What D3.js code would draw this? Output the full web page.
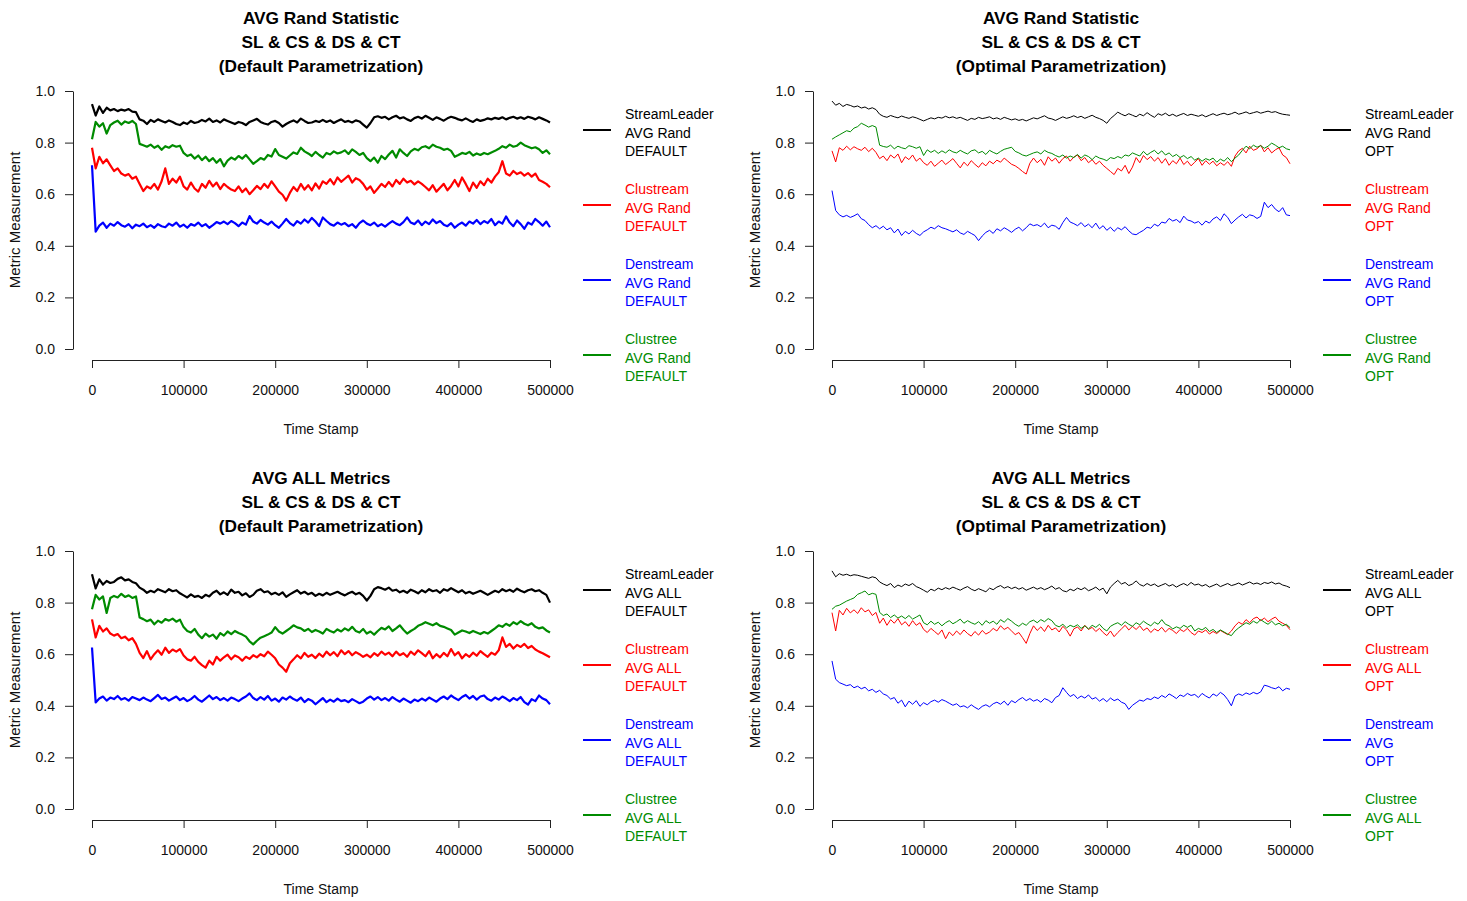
<!DOCTYPE html>
<html>
<head>
<meta charset="utf-8">
<script src="https://cdn.jsdelivr.net/npm/d3@7"></script>
<style>
  body { margin: 0; background: #fff; }
  svg { display: block; }
  text { font-family: "Liberation Sans", Arial, sans-serif; }
</style>
</head>
<body>
<svg id="chart" width="1467" height="901"></svg>
<script>
// Sampling: one measurement every 4000 time stamps, 0 .. 500000
const timeStep = 4000;
const timeMax = 500000;

// Axis tick values
const xTickValues = [0, 100000, 200000, 300000, 400000, 500000];
const yTickValues = [0, 0.2, 0.4, 0.6, 0.8, 1.0];

// Series values, in thousandths of the metric
const randDefaultStreamLeader = [
  949,905,940,915,935,925,930,922,928,924,
  930,920,918,890,885,872,888,880,890,884,
  878,886,880,872,868,878,872,884,876,880,
  888,882,893,880,886,878,890,884,878,872,
  880,876,868,880,886,892,880,874,870,880,
  884,876,862,872,880,886,878,893,884,876,
  878,884,880,888,880,886,876,884,890,880,
  884,878,886,882,870,858,876,898,902,896,
  900,890,898,904,894,898,890,884,895,900,
  893,904,896,888,898,892,885,894,900,896,
  890,886,894,886,880,890,884,888,894,890,
  896,892,898,890,896,900,893,898,892,900,
  896,890,898,892,886,878
];
const randDefaultClustream = [
  780,700,745,720,735,712,690,700,680,672,
  678,660,668,640,612,630,622,640,618,650,
  700,640,660,645,668,630,618,645,622,610,
  640,625,652,630,645,620,640,628,618,612,
  630,608,622,600,615,632,620,640,625,650,
  630,610,598,575,605,628,612,640,618,635,
  615,642,622,650,640,658,638,665,648,660,
  672,645,662,655,640,618,630,605,622,640,
  628,648,630,655,640,660,645,652,638,650,
  640,628,615,635,610,625,640,615,632,655,
  630,665,640,612,645,625,650,635,660,645,
  668,685,728,680,672,690,678,685,672,682,
  668,680,655,648,640,627
];
const randDefaultDenstream = [
  712,455,478,490,470,486,478,492,480,474,
  484,468,482,476,486,472,480,470,484,476,
  472,486,478,490,474,482,470,484,478,490,
  476,484,470,480,492,486,494,484,496,488,
  476,490,482,515,494,486,500,490,482,494,
  480,470,486,504,488,478,496,486,502,490,
  508,494,476,510,496,484,478,490,482,488,
  476,484,470,488,498,486,480,490,476,484,
  474,486,496,486,480,492,510,490,484,498,
  480,494,484,502,488,496,482,476,488,470,
  482,490,478,494,486,500,484,496,488,504,
  480,494,486,514,490,476,498,484,466,490,
  482,504,492,478,494,472
];
const randDefaultClustree = [
  813,880,862,875,835,868,878,885,870,882,
  876,884,872,795,790,784,792,780,788,772,
  786,780,790,784,788,760,748,754,738,750,
  732,745,728,740,722,736,708,730,742,734,
  748,738,752,735,718,728,740,734,752,746,
  775,752,745,738,750,762,756,780,766,758,
  748,764,752,742,760,754,766,758,762,770,
  756,774,764,752,760,740,728,742,722,748,
  736,754,768,742,774,760,748,766,776,770,
  782,786,778,792,784,780,772,776,768,745,
  752,760,756,764,750,758,752,760,755,762,
  768,776,786,780,792,784,788,800,790,784,
  778,782,774,760,770,755
];

const randOptStreamLeader = [
  961,945,952,940,948,944,938,942,934,938,
  930,935,928,910,902,898,905,900,896,903,
  898,894,900,896,890,884,890,896,892,898,
  895,902,896,900,894,898,892,886,894,890,
  898,893,896,900,892,896,890,898,893,888,
  892,886,890,884,890,896,892,898,904,895,
  892,886,893,900,894,898,904,897,902,894,
  900,906,898,893,886,875,893,905,918,910,
  904,912,906,900,910,904,916,906,898,912,
  906,914,904,910,902,908,913,905,910,906,
  902,908,900,906,912,905,910,914,908,912,
  918,910,914,919,912,916,920,914,918,922,
  917,920,914,910,908,906
];
const randOptClustream = [
  768,725,780,770,786,772,784,776,770,782,
  765,778,762,738,748,730,752,740,756,722,
  745,734,752,728,740,722,712,728,708,720,
  732,715,726,738,720,702,724,710,730,716,
  704,722,710,728,718,732,724,740,728,716,
  710,700,688,678,720,740,722,735,712,745,
  728,740,720,738,748,728,744,752,730,742,
  722,734,716,728,712,700,688,676,700,690,
  712,680,705,742,722,750,734,746,728,742,
  720,738,712,730,718,740,715,728,710,724,
  738,712,730,716,728,710,722,712,726,708,
  748,768,778,760,786,770,776,790,764,780,
  760,772,780,752,742,718
];
const randOptDenstream = [
  614,537,520,512,518,510,516,524,505,498,
  482,470,478,466,476,462,470,450,465,440,
  456,446,460,448,440,454,462,472,466,478,
  470,466,460,454,462,450,444,456,448,440,
  420,438,452,460,448,466,458,470,462,452,
  464,472,458,470,485,478,482,474,488,470,
  480,476,464,490,510,492,486,478,490,474,
  484,470,488,466,478,460,472,456,470,462,
  474,458,446,443,452,460,472,468,484,476,
  492,488,506,496,502,490,515,500,496,488,
  494,480,496,488,504,512,498,524,510,486,
  500,512,522,508,520,516,506,514,569,548,
  560,542,532,548,520,517
];
const randOptClustree = [
  813,822,830,838,846,842,856,862,875,868,
  860,866,860,790,785,782,790,776,786,780,
  776,788,784,778,784,750,772,762,770,758,
  768,760,772,764,760,770,762,756,768,772,
  760,766,754,770,762,756,766,774,778,782,
  766,760,752,748,754,760,764,756,770,762,
  758,750,744,752,740,748,742,754,740,752,
  746,734,748,740,736,730,742,738,746,740,
  752,748,760,754,748,766,752,762,770,756,
  768,752,760,746,754,742,750,738,746,732,
  740,728,738,732,740,724,736,728,742,726,
  740,752,770,786,776,790,782,788,778,786,
  798,790,780,786,776,772
];

const allDefaultStreamLeader = [
  910,855,890,870,884,876,880,892,898,886,
  890,880,875,858,850,838,846,840,852,846,
  840,852,844,848,836,828,820,832,822,826,
  818,830,824,838,846,832,840,830,850,838,
  842,828,836,822,830,846,852,840,844,832,
  838,830,840,822,832,840,848,835,842,832,
  838,826,834,828,838,830,836,842,834,828,
  836,842,832,838,826,808,826,852,860,856,
  850,858,846,850,840,846,838,850,844,836,
  848,840,852,844,848,838,852,846,856,848,
  840,848,836,842,834,840,846,838,830,838,
  846,840,852,844,850,842,854,846,840,848,
  852,844,848,838,830,800
];
const allDefaultClustream = [
  735,665,710,688,700,680,672,678,662,668,
  654,662,640,605,585,612,580,600,615,598,
  625,605,618,610,620,595,580,575,590,570,
  558,548,575,560,590,575,588,598,580,595,
  588,575,590,582,596,588,600,592,610,598,
  584,560,548,532,565,580,596,584,605,590,
  598,585,602,590,610,596,608,592,615,600,
  612,596,608,600,590,598,588,604,594,610,
  598,606,592,610,596,604,590,610,598,615,
  604,592,612,584,600,588,605,592,620,596,
  608,584,600,590,606,594,612,600,590,606,
  598,615,665,628,640,622,636,628,640,624,
  632,618,610,604,596,588
];
const allDefaultDenstream = [
  626,413,428,436,420,432,426,438,424,430,
  420,434,428,422,432,424,418,430,442,426,
  432,420,428,436,422,430,418,426,438,424,
  416,428,440,426,434,422,430,420,432,426,
  418,428,436,448,430,422,434,424,438,420,
  428,416,432,424,436,426,420,432,414,426,
  420,406,418,430,414,424,416,428,418,422,
  414,426,418,410,416,428,436,424,434,422,
  430,420,434,424,416,428,420,412,424,418,
  428,420,432,424,416,428,436,426,440,430,
  422,434,442,428,438,424,436,440,426,420,
  432,424,436,428,418,430,422,434,414,405,
  426,418,440,428,422,406
];
const allDefaultClustree = [
  774,830,812,824,760,818,826,820,834,822,
  828,818,824,742,736,728,734,716,730,722,
  736,730,738,726,734,705,690,684,698,676,
  662,680,668,676,660,682,672,688,678,690,
  682,676,668,650,638,652,664,670,676,684,
  705,688,680,690,700,712,704,700,690,698,
  686,694,688,680,698,690,684,696,688,700,
  692,706,690,684,698,680,688,676,690,702,
  696,708,690,700,712,695,680,690,698,710,
  716,724,718,712,720,710,706,700,694,676,
  684,692,688,682,690,684,678,686,680,690,
  700,712,706,718,710,724,716,728,718,712,
  720,706,700,704,692,684
];

const allOptStreamLeader = [
  923,900,912,906,910,904,908,906,902,898,
  894,900,896,880,872,866,874,858,868,862,
  872,866,874,862,856,848,840,852,846,856,
  850,858,852,860,854,848,856,862,852,846,
  854,848,842,856,850,860,866,856,862,854,
  860,852,858,848,854,860,852,858,850,856,
  864,852,858,846,842,852,846,856,850,858,
  846,852,860,848,856,834,860,874,886,872,
  878,866,872,884,870,864,874,866,872,862,
  868,874,864,870,860,868,874,866,878,868,
  872,864,870,860,866,872,862,868,874,866,
  870,876,868,874,880,872,876,870,878,874,
  880,872,876,868,864,858
];
const allOptClustream = [
  761,690,770,752,778,760,772,758,780,764,
  772,750,762,720,740,712,734,720,738,714,
  726,708,730,712,722,696,684,700,688,676,
  694,660,686,672,690,676,694,680,670,688,
  674,692,678,686,700,690,710,696,704,690,
  676,684,664,642,680,710,692,706,688,712,
  694,702,686,708,694,670,698,706,690,712,
  696,704,688,700,684,672,690,668,684,698,
  712,694,708,696,710,692,702,684,698,690,
  704,686,700,692,680,696,688,700,684,674,
  690,684,694,678,688,680,692,684,676,690,
  710,724,716,734,722,738,744,730,740,726,
  736,744,728,720,712,695
];
const allOptDenstream = [
  574,503,490,484,478,482,470,476,466,472,
  458,464,452,460,446,440,426,432,410,422,
  396,418,406,420,398,412,404,416,422,414,
  424,418,410,402,408,396,400,392,404,394,
  386,398,404,396,408,414,406,418,402,420,
  412,424,432,420,428,418,424,414,428,422,
  412,432,440,470,452,436,444,428,438,430,
  442,426,432,418,428,416,430,420,426,414,
  408,386,402,412,422,418,428,424,434,428,
  440,432,446,438,428,442,436,448,440,444,
  432,448,438,430,446,438,452,442,424,400,
  438,446,440,450,444,452,446,454,480,476,
  470,466,474,458,468,464
];
const allOptClustree = [
  774,786,790,798,806,812,818,832,838,845,
  830,836,832,762,750,756,742,752,740,748,
  738,750,736,744,752,722,714,728,716,724,
  710,722,730,718,726,736,720,730,722,716,
  726,712,730,720,728,716,734,724,738,728,
  716,708,720,712,726,732,722,734,726,738,
  730,712,706,716,702,712,706,714,700,710,
  698,712,704,716,700,690,708,716,722,712,
  726,716,708,722,714,728,718,710,724,716,
  734,716,710,698,706,700,712,704,712,690,
  700,694,704,688,696,684,694,686,678,672,
  690,702,712,722,716,728,720,734,724,716,
  728,714,720,710,716,703
];

// Algorithm colours (legend and lines share them)
const algoColors = ["#000000", "#ff0000", "#0000ff", "#008b00"];
const algoNames = ["StreamLeader", "Clustream", "Denstream", "Clustree"];

const panels = [
  {
    title: ["AVG Rand Statistic", "SL & CS & DS & CT", "(Default Parametrization)"],
    series: [randDefaultStreamLeader, randDefaultClustream, randDefaultDenstream, randDefaultClustree],
    legend: [["AVG Rand", "DEFAULT"], ["AVG Rand", "DEFAULT"], ["AVG Rand", "DEFAULT"], ["AVG Rand", "DEFAULT"]],
    col: 0, row: 0, lineWidth: 2.2
  },
  {
    title: ["AVG Rand Statistic", "SL & CS & DS & CT", "(Optimal Parametrization)"],
    series: [randOptStreamLeader, randOptClustream, randOptDenstream, randOptClustree],
    legend: [["AVG Rand", "OPT"], ["AVG Rand", "OPT"], ["AVG Rand", "OPT"], ["AVG Rand", "OPT"]],
    col: 1, row: 0, lineWidth: 1
  },
  {
    title: ["AVG ALL Metrics", "SL & CS & DS & CT", "(Default Parametrization)"],
    series: [allDefaultStreamLeader, allDefaultClustream, allDefaultDenstream, allDefaultClustree],
    legend: [["AVG ALL", "DEFAULT"], ["AVG ALL", "DEFAULT"], ["AVG ALL", "DEFAULT"], ["AVG ALL", "DEFAULT"]],
    col: 0, row: 1, lineWidth: 2.2
  },
  {
    title: ["AVG ALL Metrics", "SL & CS & DS & CT", "(Optimal Parametrization)"],
    series: [allOptStreamLeader, allOptClustream, allOptDenstream, allOptClustree],
    legend: [["AVG ALL", "OPT"], ["AVG ALL", "OPT"], ["AVG", "OPT"], ["AVG ALL", "OPT"]],
    col: 1, row: 1, lineWidth: 1
  }
];

// Panel geometry
const columns = [
  { axisX: 73, x0: 92, x1: 550, legendX: 583 },
  { axisX: 813, x0: 832, x1: 1290, legendX: 1323 }
];
const rows = [
  { yTop: 91, yBottom: 349, axisY: 360, titleY: 18, legendY: 114 },
  { yTop: 551, yBottom: 809, axisY: 820, titleY: 478, legendY: 574 }
];

const svg = d3.select("#chart");
const timeStamps = d3.range(0, timeMax + 1, timeStep);

panels.forEach(p => {
  const c = columns[p.col], r = rows[p.row];
  const g = svg.append("g");

  const x = d3.scaleLinear().domain([0, timeMax]).range([c.x0, c.x1]);
  const y = d3.scaleLinear().domain([0, 1]).range([r.yBottom, r.yTop]);

  // Title
  const cx = (c.x0 + c.x1) / 2;
  p.title.forEach((t, i) => {
    g.append("text")
      .attr("x", cx).attr("y", r.titleY + i * 24)
      .attr("text-anchor", "middle").attr("dominant-baseline", "central")
      .attr("font-size", 17.3).attr("font-weight", "bold").attr("fill", "#000")
      .text(t);
  });

  // Axes
  const xAxis = d3.axisBottom(x).tickValues(xTickValues).tickFormat(d3.format("d"))
    .tickSize(8).tickSizeOuter(0).tickPadding(17);
  const yAxis = d3.axisLeft(y).tickValues(yTickValues).tickFormat(d3.format(".1f"))
    .tickSize(8).tickSizeOuter(0).tickPadding(10);

  const gx = g.append("g").attr("transform", `translate(0,${r.axisY})`).call(xAxis);
  const gy = g.append("g").attr("transform", `translate(${c.axisX},0)`).call(yAxis);
  [gx, gy].forEach(a => {
    a.selectAll("path, line").attr("stroke", "#222");
    a.selectAll("text").attr("font-size", 14).attr("fill", "#111")
      .attr("font-family", '"Liberation Sans", Arial, sans-serif');
  });

  // Axis titles
  g.append("text")
    .attr("x", cx).attr("y", r.axisY + 69)
    .attr("text-anchor", "middle").attr("dominant-baseline", "central")
    .attr("font-size", 14).attr("fill", "#111").text("Time Stamp");
  g.append("text")
    .attr("transform", `translate(${c.axisX - 59},${(r.yTop + r.yBottom) / 2}) rotate(-90)`)
    .attr("text-anchor", "middle").attr("dominant-baseline", "central")
    .attr("font-size", 15).attr("fill", "#111").text("Metric Measurement");

  // Series lines
  const line = d3.line()
    .x((d, i) => x(timeStamps[i]))
    .y(d => y(d / 1000));
  p.series.forEach((s, k) => {
    g.append("path")
      .datum(s)
      .attr("fill", "none")
      .attr("stroke", algoColors[k])
      .attr("stroke-width", p.lineWidth)
      .attr("stroke-linejoin", "round")
      .attr("d", line);
  });

  // Legend
  p.legend.forEach((lbl, k) => {
    const top = r.legendY + k * 75;
    const lines = [algoNames[k]].concat(lbl);
    g.append("line")
      .attr("x1", c.legendX).attr("x2", c.legendX + 28)
      .attr("y1", top + 16).attr("y2", top + 16)
      .attr("stroke", algoColors[k]).attr("stroke-width", 2);
    lines.forEach((t, j) => {
      g.append("text")
        .attr("x", c.legendX + 42).attr("y", top + j * 18.5)
        .attr("dominant-baseline", "central")
        .attr("font-size", 14).attr("fill", algoColors[k])
        .text(t);
    });
  });
});
</script>
</body>
</html>
